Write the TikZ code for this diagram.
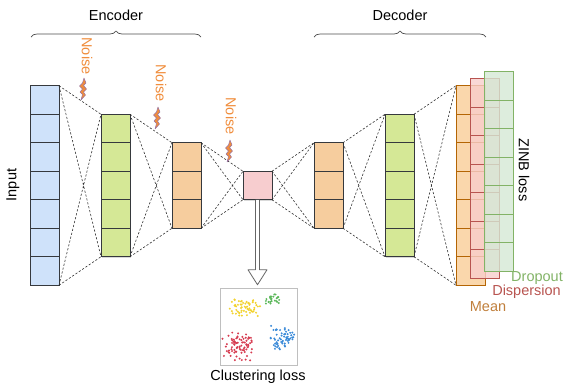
\documentclass[tikz,border=0pt]{standalone}
\usepackage{fontspec}
\setmainfont{Liberation Sans}
\usetikzlibrary{calc, decorations.pathreplacing, shadows}
\definecolor{inblue}{HTML}{CFE2FA}
\definecolor{lgreen}{HTML}{D5E896}
\definecolor{lorange}{HTML}{F6CD9E}
\definecolor{lpink}{HTML}{F7CDCF}
\definecolor{edgegray}{HTML}{36393D}
\definecolor{meanfill}{HTML}{FAD7AC}
\definecolor{meanline}{HTML}{B46504}
\definecolor{meantext}{HTML}{C07F3C}
\definecolor{dispfill}{HTML}{F8CECC}
\definecolor{displine}{HTML}{B85450}
\definecolor{dropfill}{HTML}{D5E8D4}
\definecolor{dropline}{HTML}{82B366}
\definecolor{noiseorange}{HTML}{F08D3C}
\definecolor{boltpurple}{HTML}{9673A6}
\definecolor{ptyellow}{HTML}{F2D22E}
\definecolor{ptgreen}{HTML}{5DB85C}
\definecolor{ptred}{HTML}{D63B50}
\definecolor{ptblue}{HTML}{3A8AD8}

\begin{document}
\begin{tikzpicture}[
  x=1pt, y=-1pt,
  font=\fontsize{14.5}{17}\selectfont,
  layer/.style={draw=edgegray, line width=0.8pt, minimum width=29pt, inner sep=0pt, outer sep=0pt,
    drop shadow={shadow xshift=1.2pt, shadow yshift=-1.2pt, opacity=0.3}},
  stacked/.style={line width=0.8pt, minimum width=29pt, minimum height=199.5pt, inner sep=0pt, outer sep=0pt},
  cellline/.style={edgegray, line width=0.8pt},
  link/.style={draw=black!80, line width=0.6pt, dash pattern=on 2.2pt off 1.8pt},
  bolt/.style={fill=noiseorange, draw=boltpurple, line width=0.5pt, line join=round},
  noise/.style={text=noiseorange, rotate=-90, inner sep=0pt},
  brace/.style={decorate, decoration={brace, amplitude=6pt}, draw=black!70, line width=0.7pt},
  flow/.style={fill=white, draw=black!60, line width=0.8pt, line join=round},
]
\useasboundingbox (0,0) rectangle (563,384);

% ===== Encoder / decoder braces =====
\draw[brace] (31,37) -- (201,37);
\node (enclabel) at (116,15) {Encoder};
\draw[brace] (314,37) -- (486,37);
\node (declabel) at (400,15) {Decoder};

% ===== Layers =====
\node[layer, fill=inblue, minimum height=199.5pt] (in) at (44.5,185.5) {};
\node[layer, fill=lgreen, minimum height=142.5pt] (enc1) at (115.5,185.5) {};
\node[layer, fill=lorange, minimum height=85.5pt] (enc2) at (186.5,185.5) {};
\node[layer, fill=lpink, minimum height=28.5pt] (code) at (257.5,185.5) {};
\node[layer, fill=lorange, minimum height=85.5pt] (dec1) at (328.5,185.5) {};
\node[layer, fill=lgreen, minimum height=142.5pt] (dec2) at (399.5,185.5) {};

\foreach \k in {1,...,6}
  \draw[cellline] ($(in.north west)+(0,\k*28.5)$) -- ++(29,0);
\foreach \n in {enc1, dec2}
  \foreach \k in {1,...,4}
    \draw[cellline] ($(\n.north west)+(0,\k*28.5)$) -- ++(29,0);
\foreach \n in {enc2, dec1}
  \foreach \k in {1,...,2}
    \draw[cellline] ($(\n.north west)+(0,\k*28.5)$) -- ++(29,0);

% Output heads: mean, dispersion, dropout
\node[stacked, draw=meanline, fill=meanfill, drop shadow={shadow xshift=1.2pt, shadow yshift=-1.2pt, opacity=0.3}] (mean) at (470.5,185.5) {};
\foreach \k in {1,...,6}
  \draw[meanline, line width=0.8pt] ($(mean.north west)+(0,\k*28.5)$) -- ++(29,0);
\node[stacked, draw=displine, fill=dispfill, fill opacity=0.8] (disp) at (484.5,178.5) {};
\foreach \k in {1,...,6}
  \draw[displine, line width=0.8pt] ($(disp.north west)+(0,\k*28.5)$) -- ++(29,0);
\node[stacked, draw=dropline, fill=dropfill, fill opacity=0.8] (drop) at (498.5,171.5) {};
\foreach \k in {1,...,6}
  \draw[dropline, line width=0.8pt] ($(drop.north west)+(0,\k*28.5)$) -- ++(29,0);

% ===== Dashed connections between layers =====
\foreach \a/\b in {in/enc1, enc1/enc2, enc2/code, code/dec1, dec1/dec2, dec2/mean}
  \draw[link] (\a.north east) -- (\b.north west) (\a.south east) -- (\b.south west)
              (\a.north east) -- (\b.south west) (\a.south east) -- (\b.north west);

% ===== Noise injection =====
\node[noise] (noise1) at (87,56) {Noise};
\node[noise] (noise2) at (161,83) {Noise};
\node[noise] (noise3) at (231,116) {Noise};
\foreach \p in {(83,89), (157,118), (229,151)}
  \draw[bolt, shift={\p}] (1,-11) -- (3,-6) -- (0.5,-3.5) -- (3.5,0) -- (0.5,3) -- (2.5,6) -- (-2,11)
    -- (-0.5,5.5) -- (-3,3) -- (-0.5,0) -- (-3.5,-3) -- (-0.5,-6) -- cycle;

% ===== Clustering branch =====
\node[draw=black!25, line width=1pt, minimum size=77pt, inner sep=0pt] (clu) at (258.5,326.5) {};
\draw[flow] (code.south) ++(-2,0) -- ++(0,70) -- ++(-7.5,0) -- ++(9.5,15) -- ++(9.5,-15) -- ++(-7.5,0) -- ++(0,-70);

% scattered embeddings, four clusters
\pgfmathsetseed{42}
\foreach \i in {1,...,60}
  \fill[ptyellow] ({245+11*rand+5*rand},{308+6*rand+4*rand}) circle (1.1pt);
\foreach \i in {1,...,25}
  \fill[ptgreen] ({272+7*rand+3*rand},{299+4*rand+2*rand}) circle (1.1pt);
\foreach \i in {1,...,80}
  \fill[ptred] ({239+12*rand+6*rand},{346+10*rand+6*rand}) circle (1.1pt);
\foreach \i in {1,...,60}
  \fill[ptblue] ({281+9*rand+5*rand},{338+9*rand+5*rand}) circle (1.1pt);

% ===== Labels =====
\node[rotate=90] (inlabel) at (13,185) {Input};
\node (clulabel) at (258,377) {Clustering loss};
\node[rotate=-90] (zinb) at (524,170) {ZINB loss};
\node[text=dropline, anchor=east, inner sep=0pt] (droplabel) at (563,278) {Dropout};
\node[text=displine, anchor=east, inner sep=0pt] (displabel) at (561,292) {Dispersion};
\node[text=meantext, inner sep=0pt] (meanlabel) at (488,307) {Mean};

\end{tikzpicture}
\end{document}
